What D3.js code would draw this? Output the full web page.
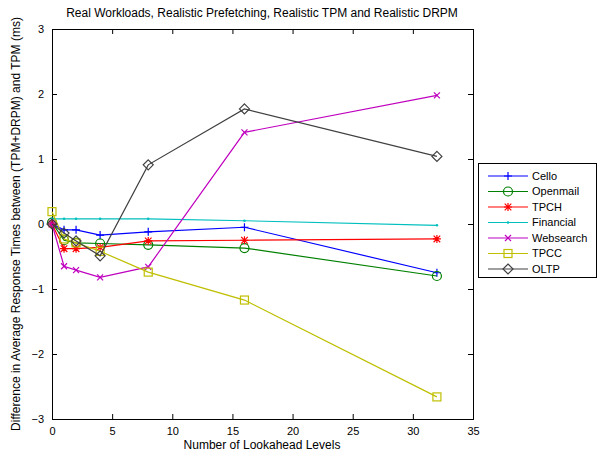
<!DOCTYPE html>
<html><head><meta charset="utf-8">
<script src="https://cdn.jsdelivr.net/npm/d3@7"></script>
<style>body{margin:0;background:#fff}svg{font-family:"Liberation Sans",Arial,sans-serif}</style>
</head><body><svg id="c" width="602" height="457"></svg>
<script>
const levels = [0, 1, 2, 4, 8, 16, 32];
const cello = [0, -0.09, -0.09, -0.17, -0.12, -0.05, -0.75];
const openmail = [0.02, -0.25, -0.29, -0.30, -0.32, -0.37, -0.80];
const tpch = [0, -0.38, -0.38, -0.36, -0.26, -0.25, -0.23];
const financial = [0.08, 0.08, 0.08, 0.08, 0.08, 0.05, -0.02];
const websearch = [0, -0.65, -0.71, -0.82, -0.66, 1.41, 1.98];
const tpcc = [0.19, -0.23, -0.29, -0.42, -0.74, -1.17, -2.66];
const oltp = [0, -0.14, -0.26, -0.49, 0.91, 1.77, 1.04];
const seriesNames = ["Cello","Openmail","TPCH","Financial","Websearch","TPCC","OLTP"];
const seriesColors = ["#0000ff","#008000","#ff0000","#00bfbf","#bf00bf","#bfbf00","#404040"];
const seriesMarkers = ["plus","circle","star","point","cross","square","diamond"];
const seriesValues = [cello, openmail, tpch, financial, websearch, tpcc, oltp];
const xTicks = [0,5,10,15,20,25,30,35];
const yTicks = [-3,-2,-1,0,1,2,3];

const svg = d3.select("#c");
const L=52,R=473,T=29,B=419;
const x = d3.scaleLinear().domain([0,35]).range([L,R]);
const y = d3.scaleLinear().domain([-3,3]).range([B,T]);

svg.append("rect").attr("x",L).attr("y",T).attr("width",R-L).attr("height",B-T).attr("fill","#fff");

function fmt(d){return d<0?"\u2212"+(-d):String(d);}
// axes with inward ticks
const xb = svg.append("g").attr("transform",`translate(0,${B})`).call(d3.axisBottom(x).tickValues(xTicks).tickSize(-5).tickPadding(8).tickFormat(fmt));
const xt = svg.append("g").attr("transform",`translate(0,${T})`).call(d3.axisTop(x).tickValues(xTicks).tickSize(-5).tickFormat(""));
const yl = svg.append("g").attr("transform",`translate(${L},0)`).call(d3.axisLeft(y).tickValues(yTicks).tickSize(-5).tickPadding(8).tickFormat(fmt));
const yr = svg.append("g").attr("transform",`translate(${R},0)`).call(d3.axisRight(y).tickValues(yTicks).tickSize(-5).tickFormat(""));
[xb,xt,yl,yr].forEach(g=>{g.select(".domain").attr("stroke","#000").attr("stroke-width",1);g.selectAll(".tick line").attr("stroke","#000");g.selectAll("text").attr("font-size",11).attr("fill","#000").attr("font-family","Liberation Sans, Arial, sans-serif");});
xb.selectAll("text").attr("dy","0.71em");

function marker(g, type, cx, cy, color){
  const s=4;
  if(type==="plus"){g.append("path").attr("d",`M${cx-s},${cy}H${cx+s}M${cx},${cy-s}V${cy+s}`).attr("stroke",color).attr("stroke-width",1.2).attr("fill","none");}
  else if(type==="circle"){g.append("circle").attr("cx",cx).attr("cy",cy).attr("r",4.5).attr("stroke",color).attr("stroke-width",1.2).attr("fill","none");}
  else if(type==="star"){const a=3.3;g.append("path").attr("d",`M${cx-s},${cy}H${cx+s}M${cx},${cy-s}V${cy+s}M${cx-a},${cy-a}L${cx+a},${cy+a}M${cx-a},${cy+a}L${cx+a},${cy-a}`).attr("stroke",color).attr("stroke-width",1.2).attr("fill","none");}
  else if(type==="point"){g.append("circle").attr("cx",cx).attr("cy",cy).attr("r",1.3).attr("fill",color);}
  else if(type==="cross"){const a=3;g.append("path").attr("d",`M${cx-a},${cy-a}L${cx+a},${cy+a}M${cx-a},${cy+a}L${cx+a},${cy-a}`).attr("stroke",color).attr("stroke-width",1.2).attr("fill","none");}
  else if(type==="square"){g.append("rect").attr("x",cx-4).attr("y",cy-4).attr("width",8).attr("height",8).attr("stroke",color).attr("stroke-width",1.2).attr("fill","none");}
  else if(type==="diamond"){const a=5;g.append("path").attr("d",`M${cx},${cy-a}L${cx+a},${cy}L${cx},${cy+a}L${cx-a},${cy}Z`).attr("stroke",color).attr("stroke-width",1.2).attr("fill","none");}
}

const line = d3.line().x((d,i)=>x(levels[i])).y(d=>y(d));
const plot = svg.append("g");
seriesValues.forEach((vals,k)=>{
  const g = plot.append("g");
  g.append("path").datum(vals).attr("d",line).attr("fill","none").attr("stroke",seriesColors[k]).attr("stroke-width",1.2);
  vals.forEach((v,i)=>marker(g, seriesMarkers[k], x(levels[i]), y(v), seriesColors[k]));
});

// legend
const lg = svg.append("g");
lg.append("rect").attr("x",478.5).attr("y",163.5).attr("width",118).attr("height",114).attr("fill","#fff").attr("stroke","#000");
seriesNames.forEach((n,k)=>{
  const cy = 176 + k*15.5;
  lg.append("line").attr("x1",488).attr("x2",528).attr("y1",cy).attr("y2",cy).attr("stroke",seriesColors[k]).attr("stroke-width",1.2);
  marker(lg, seriesMarkers[k], 508, cy, seriesColors[k]);
  lg.append("text").attr("x",532).attr("y",cy).attr("dy","0.35em").attr("font-size",11).text(n);
});

svg.append("text").attr("x",262).attr("y",17).attr("text-anchor","middle").attr("font-size",12).text("Real Workloads, Realistic Prefetching, Realistic TPM and Realistic DRPM");
svg.append("text").attr("x",262).attr("y",449).attr("text-anchor","middle").attr("font-size",12).text("Number of Lookahead Levels");
svg.append("text").attr("transform",`translate(20,${(T+B)/2}) rotate(-90)`).attr("text-anchor","middle").attr("font-size",12).text("Difference in Average Response Times between (TPM+DRPM) and TPM (ms)");
</script></body></html>
